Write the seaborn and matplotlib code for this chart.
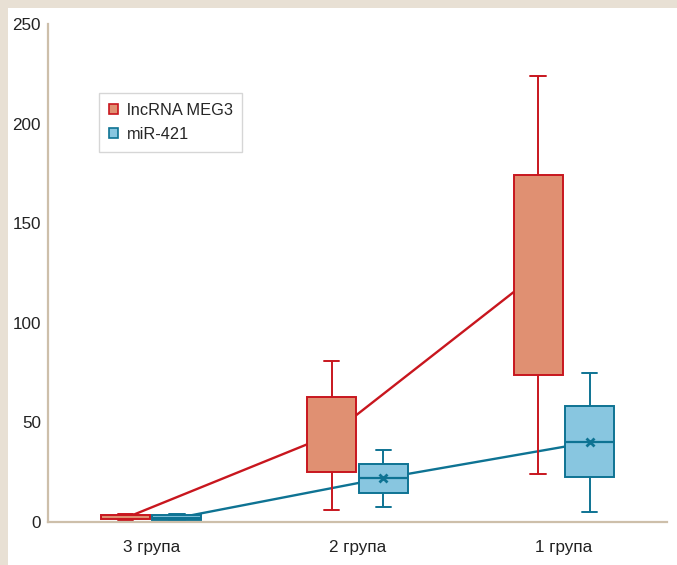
# -*- coding: utf-8 -*-
import numpy as np
import pandas as pd
import matplotlib.pyplot as plt
import matplotlib.patches as mpatches
import seaborn as sns

sns.set_style("white")
plt.rcParams['font.family'] = ['Liberation Sans', 'DejaVu Sans']

groups = ["3 група", "2 група", "1 група"]
series = ["lncRNA MEG3", "miR-421"]

# five-number summaries per group: whisker low, q1, median, q3, whisker high
meg3_stats = [[1.0, 1.5, 2.5, 3.5, 4.0],
              [6.0, 25.0, 44.0, 62.7, 81.0],
              [24.0, 74.0, 120.0, 174.0, 224.0]]
mir_stats = [[1.0, 1.2, 2.0, 3.5, 3.8],
             [7.5, 14.5, 22.0, 29.0, 36.0],
             [5.0, 22.6, 40.0, 58.0, 75.0]]
meg3_means = [2.0, 44.0, 125.0]
mir_means = [2.0, 22.0, 40.0]

beige = "#E8E0D4"
spine_c = "#CDBFAA"
red_fill, red_line = "#E09072", "#C8161E"
blue_fill, blue_line = "#88C6E0", "#0E7393"

rows = []
for name, stats in zip(series, [meg3_stats, mir_stats]):
    for g, vals in zip(groups, stats):
        for v in vals:
            rows.append({"group": g, "series": name, "value": v})
df = pd.DataFrame(rows)

fig = plt.figure(figsize=(6.77, 5.65), dpi=100)
fig.patch.set_facecolor(beige)
fig.add_artist(mpatches.Rectangle((8 / 677, 0), 1, 1 - 8 / 565,
                                  transform=fig.transFigure,
                                  facecolor="white", edgecolor="none", zorder=0))
ax = fig.add_axes([48 / 677, 1 - 522 / 565, 619 / 677, 498 / 565])
ax.set_facecolor("none")

# mean lines (drawn first, behind boxes)
off = 0.125
xs = np.arange(len(groups))
ax.plot(xs - off, meg3_means, color=red_line, lw=1.7, zorder=1)
ax.plot(xs + off, mir_means, color=blue_line, lw=1.7, zorder=1)

for name, fill, line in [(series[0], red_fill, red_line),
                         (series[1], blue_fill, blue_line)]:
    sub = df[df["series"] == name]
    # the lncRNA boxes show no median line
    med_lw = 0 if name == series[0] else 1.6
    sns.boxplot(data=sub, x="group", y="value", hue="series",
                hue_order=series, order=groups, dodge=True,
                width=0.5, gap=0.05, whis=np.inf, legend=False,
                saturation=1,
                palette={series[0]: red_fill, series[1]: blue_fill},
                linecolor=line, linewidth=1.4, ax=ax,
                medianprops={"color": line, "linewidth": med_lw},
                boxprops={"zorder": 2}, whiskerprops={"zorder": 2},
                capprops={"zorder": 2}, capwidths=0.075)

# mean markers for miR-421
ax.plot(xs[1:] + off, mir_means[1:], linestyle="none", marker="x",
        markersize=6, markeredgewidth=2, color=blue_line, zorder=4)

ax.set_xlim(-0.5, 2.5)
ax.set_ylim(0, 250)
ax.set_yticks(range(0, 251, 50))
ax.set_xlabel("")
ax.set_ylabel("")
for sp in ["top", "right"]:
    ax.spines[sp].set_visible(False)
for sp in ["left", "bottom"]:
    ax.spines[sp].set_color(spine_c)
    ax.spines[sp].set_linewidth(1.6)
ax.tick_params(axis="both", length=0, labelsize=12.3, colors="#222222")
ax.tick_params(axis="x", pad=13)
ax.tick_params(axis="y", pad=5)

handles = [mpatches.Patch(facecolor=red_fill, edgecolor=red_line, lw=1.2, label=series[0]),
           mpatches.Patch(facecolor=blue_fill, edgecolor=blue_line, lw=1.2, label=series[1])]
leg = ax.legend(handles=handles, loc="upper left", bbox_to_anchor=(0.082, 0.861),
                borderaxespad=0, fontsize=11.8, frameon=True, fancybox=False,
                handlelength=0.6, handleheight=0.6, handletextpad=0.5,
                borderpad=0.6, labelspacing=0.55)
leg.get_frame().set_edgecolor("#CCCCCC")
leg.get_frame().set_linewidth(1.0)

plt.savefig("out.png", dpi=100, facecolor=fig.get_facecolor())
